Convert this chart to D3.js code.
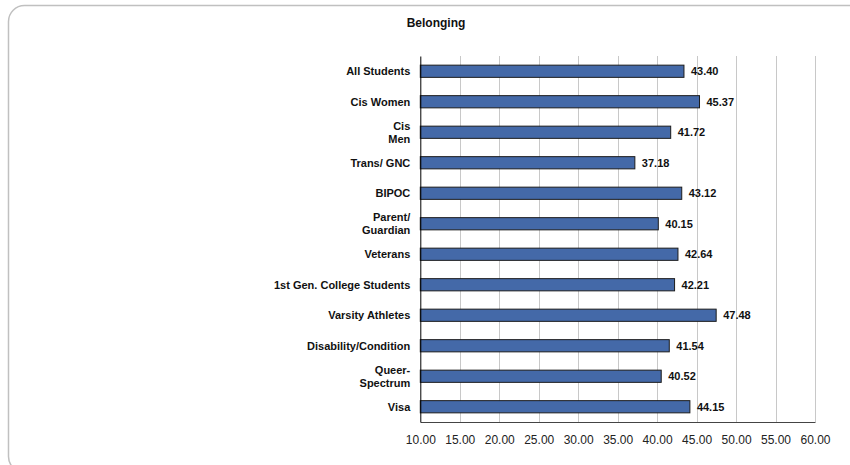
<!DOCTYPE html>
<html><head><meta charset="utf-8">
<script src="https://cdn.jsdelivr.net/npm/d3@7/dist/d3.min.js"></script>
<style>body{margin:0;background:#fff}svg{display:block}</style>
</head><body><svg id="c" width="850" height="465"></svg>
<script>
const title = "Belonging";
const categories = [["All Students"],["Cis Women"],["Cis","Men"],["Trans/ GNC"],["BIPOC"],["Parent/","Guardian"],["Veterans"],["1st Gen. College Students"],["Varsity Athletes"],["Disability/Condition"],["Queer-","Spectrum"],["Visa"]];
const values = [43.40,45.37,41.72,37.18,43.12,40.15,42.64,42.21,47.48,41.54,40.52,44.15];
const xTicks = [10,15,20,25,30,35,40,45,50,55,60];

const svg = d3.select("#c");
const font = "'Liberation Sans', Arial, Helvetica, sans-serif";
// frame
svg.append("rect").attr("x",8.5).attr("y",5.5).attr("width",880).attr("height",467)
  .attr("rx",16).attr("fill","none").attr("stroke","#c0c0c0").attr("stroke-width",1.5);

const L=420.3, R=815, T=56, B=422;
const x = d3.scaleLinear().domain([10,60]).range([L,R]);
const y = d3.scaleBand().domain(d3.range(categories.length)).range([T,B]).paddingInner(0.6).paddingOuter(0.3);

svg.append("text").attr("x",436).attr("y",27).attr("text-anchor","middle")
  .attr("font-family",font).attr("font-weight","bold").attr("font-size",12).attr("fill","#111").text(title);

// gridlines
svg.append("g").selectAll("line").data(xTicks.slice(1)).join("line")
  .attr("x1",d=>Math.round(x(d))+0.5).attr("x2",d=>Math.round(x(d))+0.5).attr("y1",T).attr("y2",B)
  .attr("stroke","#c8c8c8").attr("stroke-width",1);

// bars
svg.append("g").selectAll("rect").data(values).join("rect")
  .attr("x",x(10)).attr("y",(d,i)=>y(i)).attr("width",d=>x(d)-x(10)).attr("height",y.bandwidth())
  .attr("fill","#4469a8").attr("stroke","#1c1c1c").attr("stroke-width",1);

// value labels
svg.append("g").selectAll("text").data(values).join("text")
  .attr("x",d=>x(d)+7).attr("y",(d,i)=>y(i)+y.bandwidth()/2).attr("dy","0.36em")
  .attr("font-family",font).attr("font-weight","bold").attr("font-size",11).attr("fill","#111")
  .text(d=>d.toFixed(2));

// x axis
const xa = svg.append("g").attr("transform",`translate(0,${B})`)
  .call(d3.axisBottom(x).tickValues(xTicks).tickSize(0).tickPadding(13).tickFormat(d=>d.toFixed(2)));
xa.select(".domain").attr("stroke","#444");
xa.selectAll("text").attr("font-family",font).attr("font-size",12).attr("fill","#222");

// y axis
const ya = svg.append("g").attr("transform",`translate(${L},0)`)
  .call(d3.axisLeft(y).tickSize(0).tickFormat(""));
ya.select(".domain").attr("stroke","#000");
ya.selectAll(".tick").each(function(d){
  const g = d3.select(this);
  const lines = categories[d];
  const t = g.append("text").attr("x",-10).attr("text-anchor","end")
    .attr("font-family",font).attr("font-weight","bold").attr("font-size",11).attr("fill","#111");
  lines.forEach((s,k)=>{
    t.append("tspan").attr("x",-10).attr("y",(k-(lines.length-1)/2)*13.3).attr("dy","0.36em").text(s);
  });
});
</script></body></html>
